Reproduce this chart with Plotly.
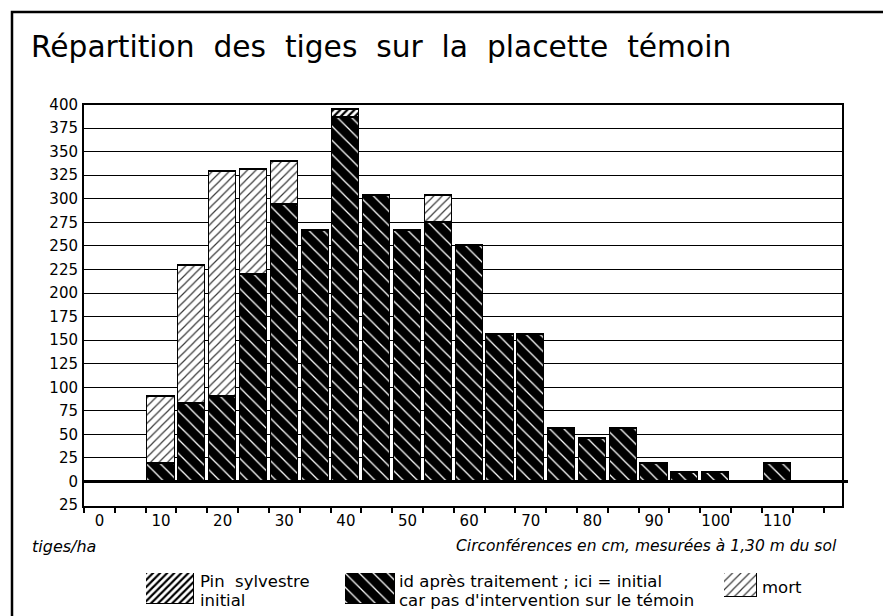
import plotly.graph_objects as go

# ---- data ----
circ = [0, 5, 10, 15, 20, 25, 30, 35, 40, 45, 50, 55, 60, 65, 70, 75, 80, 85, 90, 95, 100, 105, 110, 115]
apres_traitement = [0, 0, 19, 83, 90, 220, 294, 266, 386, 303, 266, 275, 250, 156, 156, 56, 46, 56, 19, 10, 10, 0, 19, 0]
mort = [0, 0, 71, 146, 239, 111, 46, 0, 0, 0, 0, 28, 0, 0, 0, 0, 0, 0, 0, 0, 0, 0, 0, 0]
pin_initial_extra = [0, 0, 0, 0, 0, 0, 0, 0, 9, 0, 0, 0, 0, 0, 0, 0, 0, 0, 0, 0, 0, 0, 0, 0]
x_tick_vals = [0, 10, 20, 30, 40, 50, 60, 70, 80, 90, 100, 110]
y_tick_vals = [-25, 0, 25, 50, 75, 100, 125, 150, 175, 200, 225, 250, 275, 300, 325, 350, 375, 400]
y_tick_text = ["25"] + [str(v) for v in y_tick_vals[1:]]

legend_labels = [
    ("Pin \u00a0sylvestre", "initial"),
    ("id après traitement ; ici = initial", "car pas d'intervention sur le témoin"),
    ("mort", None),
]

# page has an 8px body margin; figure is sized/offset to compensate
OFF = 8
W, H = 891 - OFF, 616 - OFF
def px(x):
    return (x - OFF) / W
def py(y):
    return 1 - (y - OFF) / H

BLACK_PAT = dict(shape="\\", fgcolor="white", bgcolor="black", size=10, solidity=0.13, fillmode="replace")
MORT_PAT = dict(shape="/", fgcolor="#3a3a3a", bgcolor="white", size=6, solidity=0.2, fillmode="replace")
PIN_PAT = dict(shape="/", fgcolor="black", bgcolor="white", size=5, solidity=0.45, fillmode="replace")

fig = go.Figure()
bar_w = 4.4
fig.add_trace(go.Bar(x=circ, y=apres_traitement, width=bar_w,
                     marker=dict(color="black", pattern=BLACK_PAT, line=dict(color="black", width=1.5)),
                     showlegend=False))
fig.add_trace(go.Bar(x=circ, y=mort, width=bar_w,
                     marker=dict(color="white", pattern=MORT_PAT, line=dict(color="black", width=1.5)),
                     showlegend=False))
fig.add_trace(go.Bar(x=circ, y=pin_initial_extra, width=bar_w,
                     marker=dict(color="white", pattern=PIN_PAT, line=dict(color="black", width=1.5)),
                     showlegend=False))

# legend swatches on small helper axes
swatches = [
    ((146, 194, 573, 604), PIN_PAT, "white"),
    ((345, 395, 573, 604), BLACK_PAT, "black"),
    ((724, 757, 573, 597), MORT_PAT, "white"),
]
for i, (box, pat, col) in enumerate(swatches):
    k = i + 2
    fig.add_trace(go.Bar(x=[0], y=[1], width=1, xaxis=f"x{k}", yaxis=f"y{k}",
                         marker=dict(color=col, pattern=pat, line=dict(color="black", width=1.5)),
                         showlegend=False, hoverinfo="skip"))
    x0, x1, y0, y1 = box
    fig.layout[f"xaxis{k}"] = dict(domain=[px(x0), px(x1)], range=[-0.5, 0.5], visible=False,
                                   anchor=f"y{k}", fixedrange=True, automargin=False)
    fig.layout[f"yaxis{k}"] = dict(domain=[py(y1), py(y0)], range=[0, 1], visible=False,
                                   anchor=f"x{k}", fixedrange=True, automargin=False)

tick_font = dict(family="DejaVu Sans, Verdana, sans-serif", size=15, color="black")
fig.update_layout(
    width=W, height=H,
    autosize=False,
    margin=dict(l=0, r=0, t=0, b=0, pad=0),
    paper_bgcolor="white", plot_bgcolor="white",
    barmode="stack", bargap=0,
    xaxis=dict(domain=[px(84), px(842)], range=[-2.5, 120.5],
               tickmode="array", tickvals=x_tick_vals, ticks="",
               tickfont=tick_font, showgrid=False, zeroline=False,
               showline=True, linecolor="black", linewidth=2, mirror=True,
               minor=dict(tick0=2.5, dtick=5, ticks="outside", ticklen=5, tickwidth=1.5,
                          tickcolor="black", showgrid=False),
               anchor="y", fixedrange=True, automargin=False),
    yaxis=dict(domain=[py(506), py(104.5)], range=[-26, 400],
               tickmode="array", tickvals=y_tick_vals, ticktext=y_tick_text,
               tickfont=tick_font, ticks="", ticklabelstandoff=1,
               showgrid=True, gridcolor="black", gridwidth=1.3,
               zeroline=True, zerolinecolor="black", zerolinewidth=3,
               showline=True, linecolor="black", linewidth=2, mirror=True,
               anchor="x", fixedrange=True, automargin=False),
    font=dict(family="DejaVu Sans, sans-serif", color="black"),
)

# outer frame
fig.add_shape(type="rect", xref="paper", yref="paper",
              x0=px(12), x1=px(885), y0=-0.05, y1=py(12),
              line=dict(color="black", width=2.5), fillcolor="rgba(0,0,0,0)", layer="below")
# zero line extension past the right edge
fig.add_shape(type="line", xref="paper", yref="y", x0=px(842), x1=px(848), y0=0, y1=0,
              line=dict(color="black", width=3))

ann = []
ann.append(dict(text="Répartition \u00a0des \u00a0tiges \u00a0sur \u00a0la \u00a0placette \u00a0témoin",
                x=px(29), y=py(46), xanchor="left", yanchor="middle",
                font=dict(family="DejaVu Sans, sans-serif", size=29.7, color="black")))
ann.append(dict(text="<i>tiges/ha</i>", x=px(30), y=py(546), xanchor="left", yanchor="middle",
                font=dict(family="DejaVu Sans, sans-serif", size=16, color="black")))
ann.append(dict(text="<i>Circonférences en cm, mesurées à 1,30 m du sol</i>", x=px(839), y=py(546),
                xanchor="right", yanchor="middle",
                font=dict(family="DejaVu Sans, sans-serif", size=15.5, color="black")))
leg_font = dict(family="DejaVu Sans, sans-serif", size=16.5, color="black")
text_x = [198, 397, 760]
for (l1, l2), tx in zip(legend_labels, text_x):
    if l2 is None:
        ann.append(dict(text=l1, x=px(tx), y=py(587), xanchor="left", yanchor="middle", font=leg_font))
    else:
        ann.append(dict(text=l1, x=px(tx), y=py(581), xanchor="left", yanchor="middle", font=leg_font))
        ann.append(dict(text=l2, x=px(tx), y=py(600), xanchor="left", yanchor="middle", font=leg_font))
for a in ann:
    a.update(xref="paper", yref="paper", showarrow=False)
    fig.add_annotation(**a)

fig.write_html("out.html")
